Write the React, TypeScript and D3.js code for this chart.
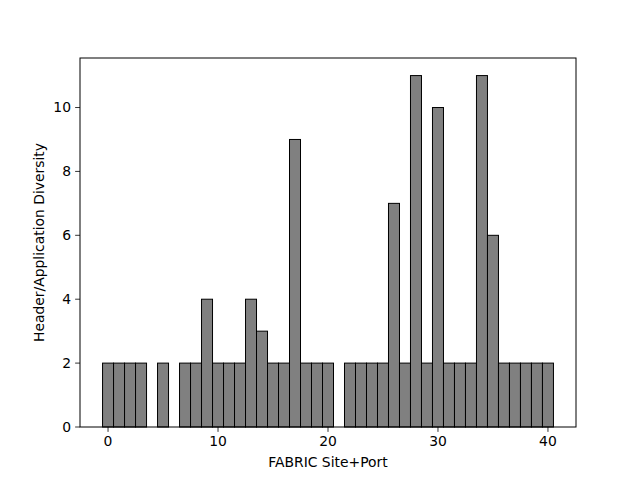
import React from "react";
import * as d3 from "d3";

const sites: number[] = [0,1,2,3,5,7,8,9,10,11,12,13,14,15,16,17,18,19,20,22,23,24,25,26,27,28,29,30,31,32,33,34,35,36,37,38,39,40];
const diversity: number[] = [2,2,2,2,2,2,2,4,2,2,2,4,3,2,2,9,2,2,2,2,2,2,2,7,2,11,2,10,2,2,2,11,6,2,2,2,2,2];
const xTicks: number[] = [0, 10, 20, 30, 40];
const yTicks: number[] = [0, 2, 4, 6, 8, 10];

const W = 640, H = 480;
const L = 80, R = 576, T = 58, B = 427;

export default function App() {
  const x = d3.scaleLinear().domain([-2.55, 42.55]).range([L, R]);
  const y = d3.scaleLinear().domain([0, 11.55]).range([B, T]);
  const font = "DejaVu Sans, sans-serif";
  return (
    <svg width={W} height={H} style={{ position: "absolute", left: 0, top: 0 }}>
      <rect x={0} y={0} width={W} height={H} fill="#fff" />
      {sites.map((s, i) => (
        <rect key={i} x={x(s - 0.5)} y={y(diversity[i])} width={x(s + 0.5) - x(s - 0.5)} height={y(0) - y(diversity[i])}
          fill="#808080" stroke="#000" strokeWidth={1} />
      ))}
      <rect x={L} y={T} width={R - L} height={B - T} fill="none" stroke="#000" strokeWidth={1} />
      {xTicks.map((t) => (
        <g key={t}>
          <line x1={x(t)} x2={x(t)} y1={B} y2={B + 4.86} stroke="#000" strokeWidth={0.8} />
          <text x={x(t)} y={B + 19} textAnchor="middle" fontFamily={font} fontSize={13.9} fill="#000">{t}</text>
        </g>
      ))}
      {yTicks.map((t) => (
        <g key={t}>
          <line x1={L - 4.86} x2={L} y1={y(t)} y2={y(t)} stroke="#000" strokeWidth={0.8} />
          <text x={L - 9} y={y(t)} dy="0.35em" textAnchor="end" fontFamily={font} fontSize={13.9} fill="#000">{t}</text>
        </g>
      ))}
      <text x={(L + R) / 2} y={467} textAnchor="middle" fontFamily={font} fontSize={13.9} fill="#000">FABRIC Site+Port</text>
      <text transform={`translate(44,${(T + B) / 2}) rotate(-90)`} textAnchor="middle" fontFamily={font} fontSize={13.9} fill="#000">Header/Application Diversity</text>
    </svg>
  );
}
